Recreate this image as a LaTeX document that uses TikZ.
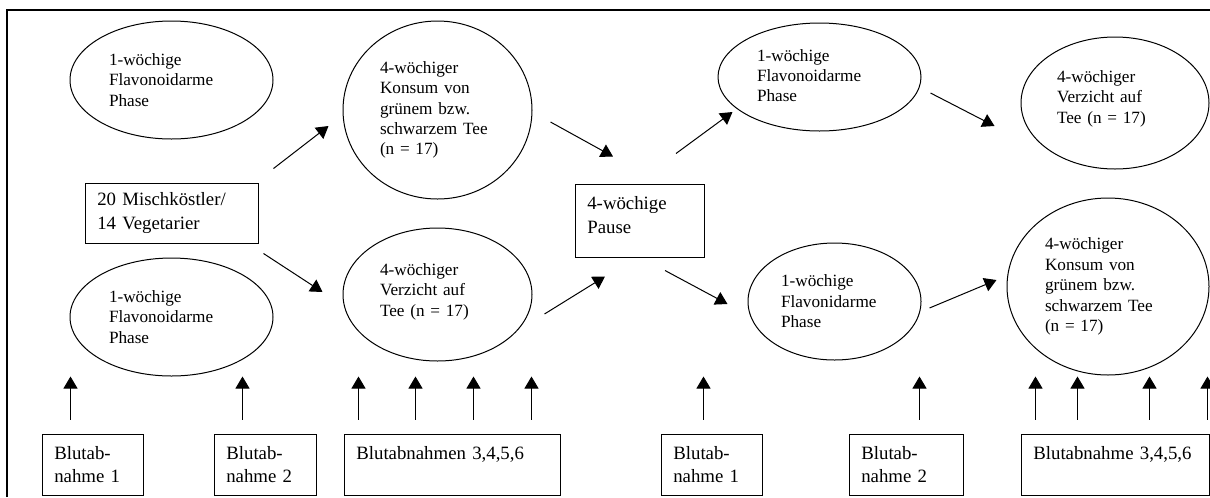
\documentclass[tikz,border=0pt]{standalone}
\usepackage{fontspec}
\setmainfont{Liberation Serif}
\usetikzlibrary{arrows.meta,calc,shapes.geometric}

\begin{document}
\begin{tikzpicture}[x=0.75pt,y=-0.75pt,line width=0.75pt,>={Triangle[length=9pt,width=10.5pt]},
oval/.style={draw,ellipse,inner sep=0pt,align=left,font=\fontsize{12.9pt}{15.3pt}\selectfont},
box/.style={draw,rectangle,inner xsep=9.25pt,inner ysep=0pt,align=left,font=\fontsize{14.1pt}{17.8pt}\selectfont},
blut/.style={box,minimum height=45.75pt,text width=#1}]
\useasboundingbox (0,0) rectangle (1210,497);
% outer frame, cut off right and below
\draw[line width=1.5pt] (7,497) -- (7,10) -- (1210,10);
% start group
\node[box,minimum height=45pt,text width=111.25pt] (b0) at (171.5,213) {20 Mischköstler/\\14 Vegetarier};
% first run
\node[oval,minimum width=152.25pt,minimum height=88.5pt,text width=93.75pt] (e1) at (171.5,80) {1-wöchige\\Flavonoidarme\\Phase};
\node[oval,minimum width=152.25pt,minimum height=88.5pt,text width=93.75pt] (e2) at (171.5,317) {1-wöchige\\Flavonoidarme\\Phase};
\node[oval,minimum width=141.75pt,minimum height=133.5pt,text width=86.25pt] (c1) at (437.5,110) {4-wöchiger\\Konsum~von\\grünem~bzw.\\schwarzem~Tee\\(n~=~17)};
\node[oval,minimum width=141.75pt,minimum height=99.75pt,text width=86.25pt] (e3) at (437.5,294.5) {4-wöchiger\\Verzicht~auf\\Tee~(n~=~17)\\[-8.55pt]\mbox{}};
% washout
\node[box,minimum height=54.75pt,text width=78.25pt] (pause) at (639.5,220.5) {4-wöchige\\Pause\\[-9.55pt]\mbox{}};
% second run
\node[oval,minimum width=152.25pt,minimum height=81pt,text width=93.75pt] (e4) at (819.5,77) {\mbox{}\\[-8.55pt]1-wöchige\\Flavonoidarme\\Phase};
\node[oval,minimum width=141pt,minimum height=99pt,text width=87pt] (e5) at (1115,103) {4-wöchiger\\Verzicht~auf\\Tee~(n~=~17)\\[-6.3pt]\mbox{}};
\node[oval,minimum width=129.75pt,minimum height=87.75pt,text width=80.25pt] (e6) at (834.5,301.5) {1-wöchige\\Flavonidarme\\Phase};
\node[oval,minimum width=151.5pt,minimum height=132.75pt,text width=94.5pt] (c2) at (1108,286.5) {4-wöchiger\\Konsum~von\\grünem~bzw.\\schwarzem~Tee\\(n~=~17)};
% blood samples
\node[blut=57.25pt] (bb1) at (92.5,464.5) {Blutab-\\nahme 1};
\node[blut=58pt] (bb2) at (265,464.5) {Blutab-\\nahme 2};
\node[blut=143.5pt] (bb3) at (452,464.5) {Blutabnahmen 3,4,5,6\\\mbox{}};
\node[blut=57.25pt] (bb4) at (711.5,464.5) {Blutab-\\nahme 1};
\node[blut=67pt] (bb5) at (906,464.5) {Blutab-\\nahme 2};
\node[blut=122.5pt] (bb6) at (1115,464.5) {Blutabnahme 3,4,5,6\\\mbox{}};
% flow
\draw[->] ($(b0.north east)+(15,-14)$) -- ($(c1.west)+(-14,16)$);
\draw[->] ($(b0.south east)+(5,10)$) -- ($(e3.west)+(-20,-2.5)$);
\draw[->] ($(c1.east)+(18,12)$) -- ($(pause.north)+(-26.5,-27)$);
\draw[->] ($(e3.east)+(12,19.5)$) -- ($(pause.south)+(-34.5,19)$);
\draw[->] ($(pause.north)+(36.5,-30)$) -- ($(e4.west)+(15,35)$);
\draw[->] ($(pause.south)+(25.5,13)$) -- ($(e6.west)+(-20,2.5)$);
\draw[->] ($(e4.east)+(9,16)$) -- ($(e5.west)+(-26,23)$);
\draw[->] ($(e6.east)+(8,6.5)$) -- ($(c2.west)+(-10,-6.5)$);
\foreach \b/\d in {bb1/29,bb2/29,bb3/15,bb3/72,bb3/130,bb3/188,bb4/43,bb5/71,bb6/15,bb6/57,bb6/129,bb6/187}
  \draw[->] ($(\b.north west)+(\d,-14)$) -- ++(0,-43);
\end{tikzpicture}
\end{document}
